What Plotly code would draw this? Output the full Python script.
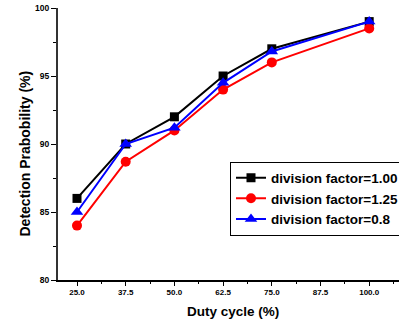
import plotly.graph_objects as go

duty_cycle = [25.0, 37.5, 50.0, 62.5, 75.0, 100.0]
df_100 = [86.0, 90.0, 92.0, 95.0, 97.0, 99.0]
df_125 = [84.0, 88.7, 91.0, 94.0, 96.0, 98.5]
df_08 = [85.0, 90.0, 91.2, 94.5, 96.8, 99.0]
x_ticks = [25.0, 37.5, 50.0, 62.5, 75.0, 87.5, 100.0]
x_tick_labels = ["25.0", "37.5", "50.0", "62.5", "75.0", "87.5", "100.0"]
y_ticks = [80, 85, 90, 95, 100]

FONT = "Liberation Sans, Arial, sans-serif"

PL, PT, PB = 58, 8, 280          # plot area left / top / bottom in px
FW, FH = 399, 320
PW = FW - PL
PH = PB - PT

fig = go.Figure()
series = [
    ("division factor=1.00", df_100, "#000000", "square", 9),
    ("division factor=1.25", df_125, "#FF0000", "circle", 10),
    ("division factor=0.8", df_08, "#0000FF", "triangle-up", 11),
]
for name, vals, col, sym, sz in series:
    fig.add_trace(go.Scatter(
        x=duty_cycle, y=vals, name=name, mode="lines+markers",
        line=dict(color=col, width=2),
        marker=dict(symbol=sym, size=sz, color=col),
        cliponaxis=False,
    ))

fig.update_layout(
    width=FW, height=FH,
    margin=dict(l=PL, r=0, t=PT, b=FH - PB, autoexpand=False),
    paper_bgcolor="white", plot_bgcolor="white",
    font=dict(family=FONT, color="black"),
    showlegend=True,
    legend=dict(
        x=(230 - PL) / PW, y=(PB - 198.5) / PH, xanchor="left", yanchor="middle",
        bgcolor="white", bordercolor="black", borderwidth=1,
        font=dict(family=FONT, size=13.5, color="black", weight="bold"),
        tracegroupgap=0,
    ),
    xaxis=dict(
        range=[25 - (77 - PL) * 12.5 / 48.7, 25 + (FW - 77) * 12.5 / 48.7], tickmode="array",
        tickvals=x_ticks, ticktext=x_tick_labels,
        ticks="outside", ticklen=4, tickwidth=1, tickcolor="black",
        showline=True, linecolor="black", linewidth=1.5, showgrid=False, zeroline=False,
        tickfont=dict(family=FONT, size=8, weight="bold"),
        minor=dict(dtick=6.25, tick0=25, ticks="outside", ticklen=2.5, tickcolor="black"),
    ),
    yaxis=dict(
        range=[80, 100], tickmode="array", tickvals=y_ticks,
        ticks="outside", ticklen=5, tickwidth=1, tickcolor="black",
        showline=True, linecolor="#333333", linewidth=2, showgrid=False, zeroline=False,
        tickfont=dict(family=FONT, size=8.5, weight="bold"),
        ticklabeloverflow="allow",
        minor=dict(dtick=2.5, tick0=80, ticks="outside", ticklen=3, tickcolor="black"),
    ),
    annotations=[
        dict(text="Duty cycle (%)", xref="paper", yref="paper",
             x=(233 - PL) / PW, y=-(311 - PB) / PH, xanchor="center", yanchor="middle",
             showarrow=False, font=dict(family=FONT, size=13.5, weight="bold")),
        dict(text="Detection Prabobility (%)", xref="paper", yref="paper",
             x=-(PL - 24) / PW, y=(PB - 153.5) / PH, xanchor="center", yanchor="middle",
             textangle=-90, showarrow=False, font=dict(family=FONT, size=14, weight="bold")),
    ],
)

# remove the browser's default 8px body margin so the figure sits at the page corner
fig.write_html("out.html", config={"displayModeBar": False},
               post_script="document.body.style.margin='0px';")
